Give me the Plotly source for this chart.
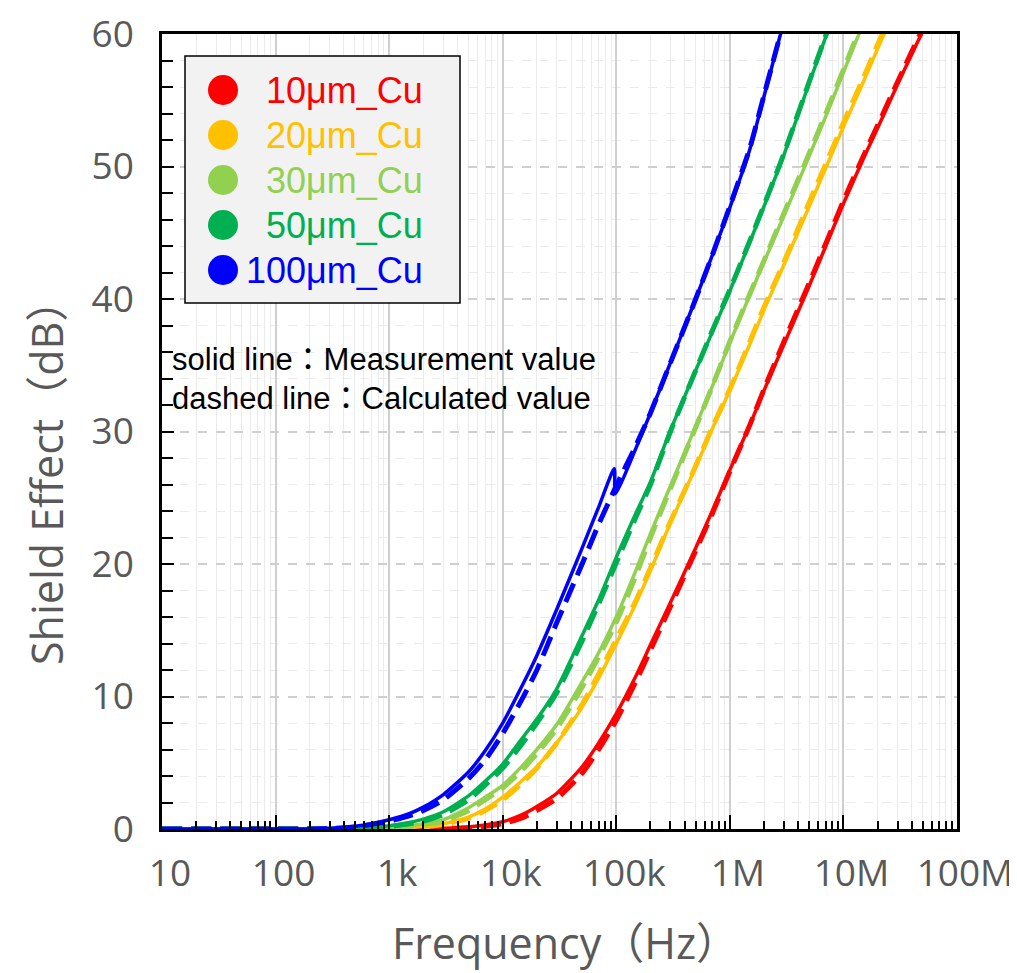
import plotly.graph_objects as go

# ---------------- data ----------------
freq = [10, 100, 200, 300, 500, 700, 1e3, 1.5e3, 2e3, 3e3, 5e3, 7e3, 1e4, 1.5e4, 2e4, 3e4,
        5e4, 7e4, 1e5, 1.5e5, 2e5, 3e5, 5e5, 7e5, 1e6, 1.5e6, 2e6, 3e6, 5e6, 7e6, 1e7,
        1.5e7, 2e7, 3e7, 5e7, 7e7]

# 100 um measured has its own frequency list (step near 100 kHz)
freq_100_meas = [10, 100, 200, 300, 500, 700, 1e3, 1.5e3, 2e3, 3e3, 5e3, 7e3, 1e4, 1.5e4, 2e4,
                 3e4, 5e4, 7e4, 9.6e4, 9.8e4, 1.5e5, 2e5, 3e5, 5e5, 7e5, 1e6, 1.5e6, 2e6, 3e6]
cu100_meas = [0, 0, 0, 0.05, 0.2, 0.4, 0.7, 1.15, 1.65, 2.6, 4.3, 5.9, 8.0, 10.9, 13.1,
              16.6, 21.2, 24.3, 27.2, 25.3, 28.8, 31.4, 35.2, 40.0, 43.3, 46.9, 51.3, 55.3, 61.0]
cu100_calc = [0, 0, 0, 0.03, 0.15, 0.35, 0.6, 1.0, 1.4, 2.2, 3.8, 5.2, 7.2, 9.9, 12.0, 15.6,
              20.0, 23.0, 25.9, 29.0, 31.4, 35.2, 40.0, 43.3, 47.0, 51.4, 55.4, 61.0,
              None, None, None, None, None, None, None, None]

cu50_meas = [0, 0, 0, 0, 0, 0.1, 0.25, 0.5, 0.75, 1.3, 2.5, 3.6, 4.9, 6.9, 8.3, 10.6,
             14.6, 17.3, 20.5, 23.9, 26.2, 30.1, 34.6, 37.5, 40.6, 44.3, 47.0, 50.9, 56.3, 59.8, 63.5,
             None, None, None, None, None]
cu50_calc = [0, 0, 0, 0, 0, 0.08, 0.2, 0.4, 0.6, 1.1, 2.2, 3.3, 4.6, 6.5, 8.0, 10.3,
             14.2, 17.0, 20.1, 23.6, 26.0, 30.0, 34.6, 37.6, 40.7, 44.4, 47.1, 51.0, 56.4, 59.9, 63.6,
             None, None, None, None, None]

cu30_meas = [0, 0, 0, 0, 0, 0, 0.1, 0.25, 0.4, 0.7, 1.6, 2.4, 3.3, 4.8, 6.0, 7.9,
             11.1, 13.3, 16.0, 19.6, 22.3, 25.9, 30.4, 33.4, 36.7, 40.3, 42.8, 46.3, 50.8, 53.8, 57.1,
             60.8, 63.0, None, None, None]
cu30_calc = [0, 0, 0, 0, 0, 0, 0.08, 0.2, 0.35, 0.6, 1.4, 2.2, 3.1, 4.5, 5.7, 7.6,
             10.7, 13.0, 15.6, 19.2, 22.0, 25.7, 30.3, 33.4, 36.8, 40.4, 42.9, 46.5, 51.0, 54.0, 57.3,
             61.0, 63.0, None, None, None]

cu20_meas = [0, 0, 0, 0, 0, 0, 0.03, 0.1, 0.2, 0.4, 0.9, 1.5, 2.4, 3.7, 4.7, 6.5,
             9.2, 11.4, 14.0, 17.1, 19.5, 23.1, 27.3, 30.2, 33.1, 36.6, 39.2, 42.6, 47.0, 49.9, 53.0,
             56.4, 58.9, 62.3, None, None]
cu20_calc = [0, 0, 0, 0, 0, 0, 0.02, 0.08, 0.15, 0.35, 0.8, 1.4, 2.2, 3.5, 4.6, 6.5,
             9.4, 11.7, 14.3, 17.3, 19.7, 23.2, 27.4, 30.3, 33.2, 36.8, 39.4, 42.8, 47.3, 50.2, 53.3,
             56.7, 59.2, 62.5, None, None]

cu10_meas = [0, 0, 0, 0, 0, 0, 0, 0, 0, 0.05, 0.15, 0.3, 0.55, 1.1, 1.7, 2.7,
             4.7, 6.5, 8.7, 11.6, 13.9, 17.1, 21.2, 24.0, 27.1, 30.5, 33.1, 36.6, 41.0, 44.0, 47.2,
             50.6, 52.9, 56.2, 60.2, 62.5]
cu10_calc = [0, 0, 0, 0, 0, 0, 0, 0, 0, 0.03, 0.1, 0.2, 0.4, 0.85, 1.4, 2.3,
             4.2, 6.0, 8.2, 11.2, 13.5, 16.8, 21.0, 23.8, 27.0, 30.5, 33.2, 36.8, 41.2, 44.2, 47.4,
             50.8, 53.1, 56.4, 60.4, 62.7]

series_names = ["10μm_Cu", "20μm_Cu", "30μm_Cu", "50μm_Cu", "100μm_Cu"]
series_colors = ["#ff0000", "#ffc000", "#92d050", "#00b050", "#0000ff"]

x_tick_vals = [10, 100, 1e3, 1e4, 1e5, 1e6, 1e7, 1e8]
x_tick_text = ["10", "100", "1k", "10k", "100k", "1M", "10M", "100M"]
y_tick_vals = [0, 10, 20, 30, 40, 50, 60]

note_lines = ["solid line：Measurement value", "dashed line：Calculated value"]

# ---------------- figure ----------------
meas = [(freq, cu10_meas), (freq, cu20_meas), (freq, cu30_meas), (freq, cu50_meas),
        (freq_100_meas, cu100_meas)]
calc = [cu10_calc, cu20_calc, cu30_calc, cu50_calc, cu100_calc]

fig = go.Figure()
for i, name in enumerate(series_names):
    c = series_colors[i]
    fig.add_trace(go.Scatter(x=freq, y=calc[i], mode="lines", name=name + " calc",
                             line=dict(color=c, width=5, dash="20px,9px",
                                       shape="spline", smoothing=0.6),
                             connectgaps=False, showlegend=False))
    fx, fy = meas[i]
    fig.add_trace(go.Scatter(x=fx, y=fy, mode="lines", name=name,
                             line=dict(color=c, width=3.5, shape="spline", smoothing=0.6),
                             showlegend=False))

TICKFONT = dict(family="Open Sans, Noto Sans CJK JP", size=37, color="#595959")

minor_x = []
for d in range(1, 8):
    for m in range(2, 10):
        minor_x.append(m * 10 ** d)

fig.update_xaxes(
    type="log", range=[1, 8],
    tickmode="array", tickvals=x_tick_vals, ticktext=x_tick_text,
    ticks="inside", ticklen=14, tickwidth=2, tickcolor="black",
    ticklabelshift=8, ticklabelstandoff=10, ticklabeloverflow="allow",
    showline=True, linecolor="black", linewidth=2.5, mirror=True,
    showgrid=True, gridcolor="#cfcfcf", gridwidth=1.5,
    tickfont=TICKFONT, zeroline=False,
    minor=dict(tickmode="array", tickvals=minor_x, ticks="inside", ticklen=8,
               tickwidth=1.5, tickcolor="black", showgrid=True,
               gridcolor="#ebebeb", gridwidth=1),
)
fig.update_yaxes(
    range=[0, 60], tickmode="array", tickvals=y_tick_vals,
    ticks="inside", ticklen=12, tickwidth=2, tickcolor="black",
    ticklabelstandoff=18, ticklabeloverflow="allow",
    showline=True, linecolor="black", linewidth=2.5, mirror=True,
    showgrid=True, gridcolor="#cfcfcf", gridwidth=1.5, griddash="dash",
    tickfont=TICKFONT, zeroline=False,
    minor=dict(dtick=2, ticks="inside", ticklen=11, tickwidth=2, tickcolor="black",
               showgrid=True, gridcolor="#ebebeb", gridwidth=1),
)

# page body has an 8px margin; work in reference-image pixels and shift
OFF = 8
W, H = 1017 - OFF, 973 - OFF
L, T = 162 - OFF, 34 - OFF
R, B = W - (957 - OFF), H - (829 - OFF)
pw, ph = W - L - R, H - T - B


def px(xref_px):
    return (xref_px - OFF - L) / pw


def py(yref_px):
    return 1 - (yref_px - OFF - T) / ph


shapes = []
annotations = []
# legend box
shapes.append(dict(type="rect", xref="paper", yref="paper",
                   x0=px(185), x1=px(460), y0=py(303), y1=py(56),
                   fillcolor="#f2f2f2", line=dict(color="black", width=1.5), layer="above"))
row_y = [90, 135, 180, 225, 270]
for i, name in enumerate(series_names):
    shapes.append(dict(type="circle", xref="paper", yref="paper",
                       xsizemode="pixel", ysizemode="pixel",
                       xanchor=px(223), yanchor=py(row_y[i]),
                       x0=-15, x1=15, y0=-15, y1=15,
                       fillcolor=series_colors[i], line=dict(width=0), layer="above"))
    annotations.append(dict(xref="paper", yref="paper", x=px(425), y=py(row_y[i] + 1),
                            xanchor="right", yanchor="middle", showarrow=False,
                            text=name, font=dict(family="Liberation Sans, Arial", size=36,
                                                 color=series_colors[i])))

for j, t in enumerate(note_lines):
    annotations.append(dict(xref="paper", yref="paper", x=px(170), y=py(359 + 39 * j),
                            xanchor="left", yanchor="middle", showarrow=False, text=t,
                            font=dict(family="Liberation Sans, Noto Sans CJK JP", size=31,
                                      color="black")))

# axis titles
annotations.append(dict(xref="paper", yref="paper", x=px(565), y=py(942),
                        xanchor="center", yanchor="middle", showarrow=False,
                        text="Frequency（Hz）",
                        font=dict(family="Open Sans, Noto Sans CJK JP", size=43, color="#595959")))
annotations.append(dict(xref="paper", yref="paper", x=px(46), y=py(472),
                        xanchor="center", yanchor="middle", showarrow=False, textangle=-90,
                        text="Shield Effect（dB）",
                        font=dict(family="Open Sans, Noto Sans CJK JP", size=43, color="#595959")))

fig.update_layout(
    width=W, height=H,
    margin=dict(l=L, r=R, t=T, b=B, autoexpand=False),
    paper_bgcolor="white", plot_bgcolor="white",
    showlegend=False,
    shapes=shapes, annotations=annotations,
)

fig.write_html("out.html")
